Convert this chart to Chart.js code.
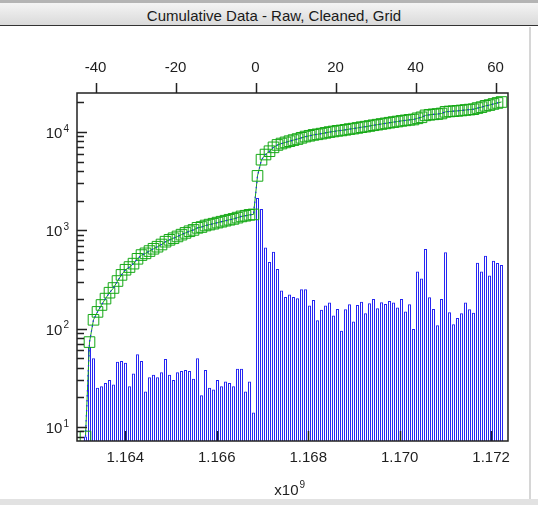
<!DOCTYPE html>
<html>
<head>
<meta charset="utf-8">
<script src="https://cdn.jsdelivr.net/npm/chart.js@4"></script>
<style>
    html, body { margin: 0; padding: 0; background: #fff; }
    #marco { position: relative; width: 538px; height: 505px; overflow: hidden; }
    #cabecera {
        position: absolute; left: 0; top: 0; width: 538px; height: 26px;
        border-top: 3px solid #b4b4b4; border-bottom: 1px solid #333;
        background: linear-gradient(#f4f4f4, #dadada);
        font: 15px "Liberation Sans", Arial, sans-serif; color: #1a1a1a;
        text-align: center; line-height: 25px; box-sizing: border-box; padding-left: 10px;
    }
    #borde-der { position: absolute; left: 529px; top: 27px; width: 2px; height: 472px; background: #d6d6d6; }
    #borde-inf { position: absolute; left: 0; top: 499px; width: 538px; height: 6px; background: #e2e2e2; }
    canvas { position: absolute; left: 0; top: 0; }
</style>
</head>
<body>
<div id="marco">
    <canvas id="grafico" width="538" height="505"></canvas>
    <div id="cabecera">Cumulative Data - Raw, Cleaned, Grid</div>
    <div id="borde-der"></div>
    <div id="borde-inf"></div>
</div>
<script>
// dias relativos (eje superior) de cada intervalo de un dia
const dias = [
    -43, -42, -41, -40, -39, -38, -37, -36, -35, -34,
    -33, -32, -31, -30, -29, -28, -27, -26, -25, -24,
    -23, -22, -21, -20, -19, -18, -17, -16, -15, -14,
    -13, -12, -11, -10, -9, -8, -7, -6, -5, -4,
    -3, -2, -1,
    0, 1, 2, 3, 4, 5, 6, 7, 8, 9,
    10, 11, 12, 13, 14, 15, 16, 17, 18, 19,
    20, 21, 22, 23, 24, 25, 26, 27, 28, 29,
    30, 31, 32, 33, 34, 35, 36, 37, 38, 39,
    40, 41, 42, 43, 44, 45, 46, 47, 48, 49,
    50, 51, 52, 53, 54, 55, 56, 57, 58, 59,
    60, 61,
];

// eventos por dia (barras)
const eventos = [
    8, 65, 50, 25, 26, 28, 30, 27, 46, 47,
    45, 26, 35, 55, 47, 23, 32, 34, 32, 36,
    49, 34, 30, 36, 37, 38, 37, 31, 50, 21,
    38, 25, 24, 30, 26, 29, 28, 26, 39, 39,
    23, 29, 14,
    2125, 1650, 670, 475, 605, 405, 244, 210, 222, 210,
    204, 252, 252, 172, 195, 122, 156, 172, 184, 136,
    158, 95, 157, 177, 118, 174, 188, 143, 181, 200,
    161, 186, 178, 191, 184, 164, 200, 149, 177, 99,
    380, 323, 647, 209, 158, 108, 200, 598, 147, 111,
    128, 143, 184, 157, 145, 469, 380, 550, 346, 489,
    464, 444,
];

// acumulado (cuadros verdes y puntos azules)
const acumulado = [
    8, 73, 123, 148, 174, 202, 232, 259, 305, 352,
    397, 423, 458, 513, 560, 583, 615, 649, 681, 717,
    766, 800, 830, 866, 903, 941, 978, 1009, 1059, 1080,
    1118, 1143, 1167, 1197, 1223, 1252, 1280, 1306, 1345, 1384,
    1407, 1436, 1450,
    3575, 5225, 5895, 6370, 6975, 7380, 7624, 7834, 8056, 8266,
    8470, 8722, 8974, 9146, 9341, 9463, 9619, 9791, 9975, 10111,
    10269, 10364, 10521, 10698, 10816, 10990, 11178, 11321, 11502, 11702,
    11863, 12049, 12227, 12418, 12602, 12766, 12966, 13115, 13292, 13391,
    13771, 14094, 14741, 14950, 15108, 15216, 15416, 16014, 16161, 16272,
    16400, 16543, 16727, 16884, 17029, 17498, 17878, 18428, 18774, 19263,
    19727, 20171,
];

const ticksSuperior = [-40, -20, 0, 20, 40, 60];
const ticksInferior = [1.164, 1.166, 1.168, 1.170, 1.172];
const decadas = [1, 2, 3, 4];

const FUENTE = "15px 'Liberation Sans', Arial, sans-serif";
const FUENTE_EXP = "10px 'Liberation Sans', Arial, sans-serif";
const TINTA = "#1e1e1e";
const AZUL = "#2626f2";
const VERDE = "#14a814";

function potencia(ctx, exp, xDer, y) {
    // "10" con exponente pequeno, alineado a la derecha en xDer
    ctx.font = FUENTE_EXP;
    const wExp = ctx.measureText(String(exp)).width;
    ctx.font = FUENTE;
    ctx.textAlign = "right";
    ctx.textBaseline = "middle";
    ctx.fillText("10", xDer - wExp - 1, y);
    ctx.font = FUENTE_EXP;
    ctx.textAlign = "left";
    ctx.fillText(String(exp), xDer - wExp, y - 5);
}

const ejesPropios = {
    id: "ejesPropios",
    afterDatasetsDraw(chart) {
        const { ctx, chartArea: a, scales } = chart;
        const y = scales.y, xs = scales.x, xi = scales.xb;
        ctx.save();
        ctx.fillStyle = TINTA;
        ctx.strokeStyle = "#222";
        ctx.lineWidth = 1.5;

        // marcas menores y mayores del eje log, hacia dentro
        ctx.beginPath();
        for (let k = 0; k <= 4; k++) {
            for (let m = 1; m <= 9; m++) {
                const v = m * Math.pow(10, k);
                if (v < y.min || v > y.max) continue;
                const py = Math.round(y.getPixelForValue(v)) + 0.5;
                ctx.moveTo(a.left, py);
                ctx.lineTo(a.left + (m === 1 ? 10 : 7), py);
            }
        }
        // eje superior: marcas hacia fuera
        ticksSuperior.forEach((t) => {
            const px = Math.round(xs.getPixelForValue(t)) + 0.5;
            ctx.moveTo(px, a.top);
            ctx.lineTo(px, a.top - 10);
        });
        // eje inferior: marcas hacia dentro
        ticksInferior.forEach((t) => {
            const px = Math.round(xi.getPixelForValue(t)) + 0.5;
            ctx.moveTo(px, a.bottom);
            ctx.lineTo(px, a.bottom - 10);
        });
        ctx.stroke();

        ctx.strokeRect(a.left, a.top, a.right - a.left, a.bottom - a.top);

        // textos
        ctx.font = FUENTE;
        ctx.textAlign = "center";
        ctx.textBaseline = "middle";
        ticksSuperior.forEach((t) => {
            ctx.fillText(String(t), xs.getPixelForValue(t), a.top - 25);
        });
        ticksInferior.forEach((t) => {
            ctx.fillText(t.toFixed(3), xi.getPixelForValue(t), a.bottom + 17);
        });
        decadas.forEach((d) => {
            potencia(ctx, d, 69, y.getPixelForValue(Math.pow(10, d)) + 2);
        });

        // titulo del eje inferior: x10^9
        const cx = (a.left + a.right) / 2;
        ctx.font = FUENTE;
        ctx.textAlign = "right";
        ctx.textBaseline = "middle";
        ctx.fillText("x10", cx + 6, a.bottom + 50);
        ctx.font = FUENTE_EXP;
        ctx.textAlign = "left";
        ctx.fillText("9", cx + 7, a.bottom + 44);
        ctx.restore();
    },
};

const puntosBarras = dias.map((d, i) => ({ x: d + 0.5, y: eventos[i] }));
const puntosAcum = dias.map((d, i) => ({ x: d + 0.5, y: acumulado[i] }));

new Chart(document.getElementById("grafico"), {
    data: {
        datasets: [
            {
                type: "bar", label: "Raw", data: puntosBarras, order: 3,
                backgroundColor: "rgba(255,255,255,0)", borderColor: AZUL, borderWidth: 1,
                barThickness: 3, inflateAmount: 0, xAxisID: "x", yAxisID: "y",
            },
            {
                type: "line", label: "Cleaned", data: puntosAcum, order: 2,
                borderColor: VERDE, borderWidth: 1, tension: 0,
                pointStyle: "rect", pointRadius: 7.5, pointBorderWidth: 1,
                pointBorderColor: VERDE, pointBackgroundColor: "rgba(255,255,255,0)",
                xAxisID: "x", yAxisID: "y",
            },
            {
                type: "line", label: "Grid", data: puntosAcum, order: 1,
                borderColor: AZUL, borderWidth: 1.2, borderDash: [1.5, 3.5],
                pointRadius: 0, tension: 0, xAxisID: "x", yAxisID: "y",
            },
        ],
    },
    options: {
        responsive: false,
        animation: false,
        devicePixelRatio: 1,
        layout: { padding: { left: 77, right: 30, top: 93, bottom: 64 } },
        plugins: { legend: { display: false }, tooltip: { enabled: false } },
        scales: {
            x: { type: "linear", position: "top", min: -44.625, max: 63.125, offset: false, display: false },
            xb: { type: "linear", position: "bottom", min: 1.162943, max: 1.172369, offset: false, display: false },
            y: { type: "logarithmic", min: 7.2, max: 24900, display: false },
        },
    },
    plugins: [ejesPropios],
});
</script>
</body>
</html>
